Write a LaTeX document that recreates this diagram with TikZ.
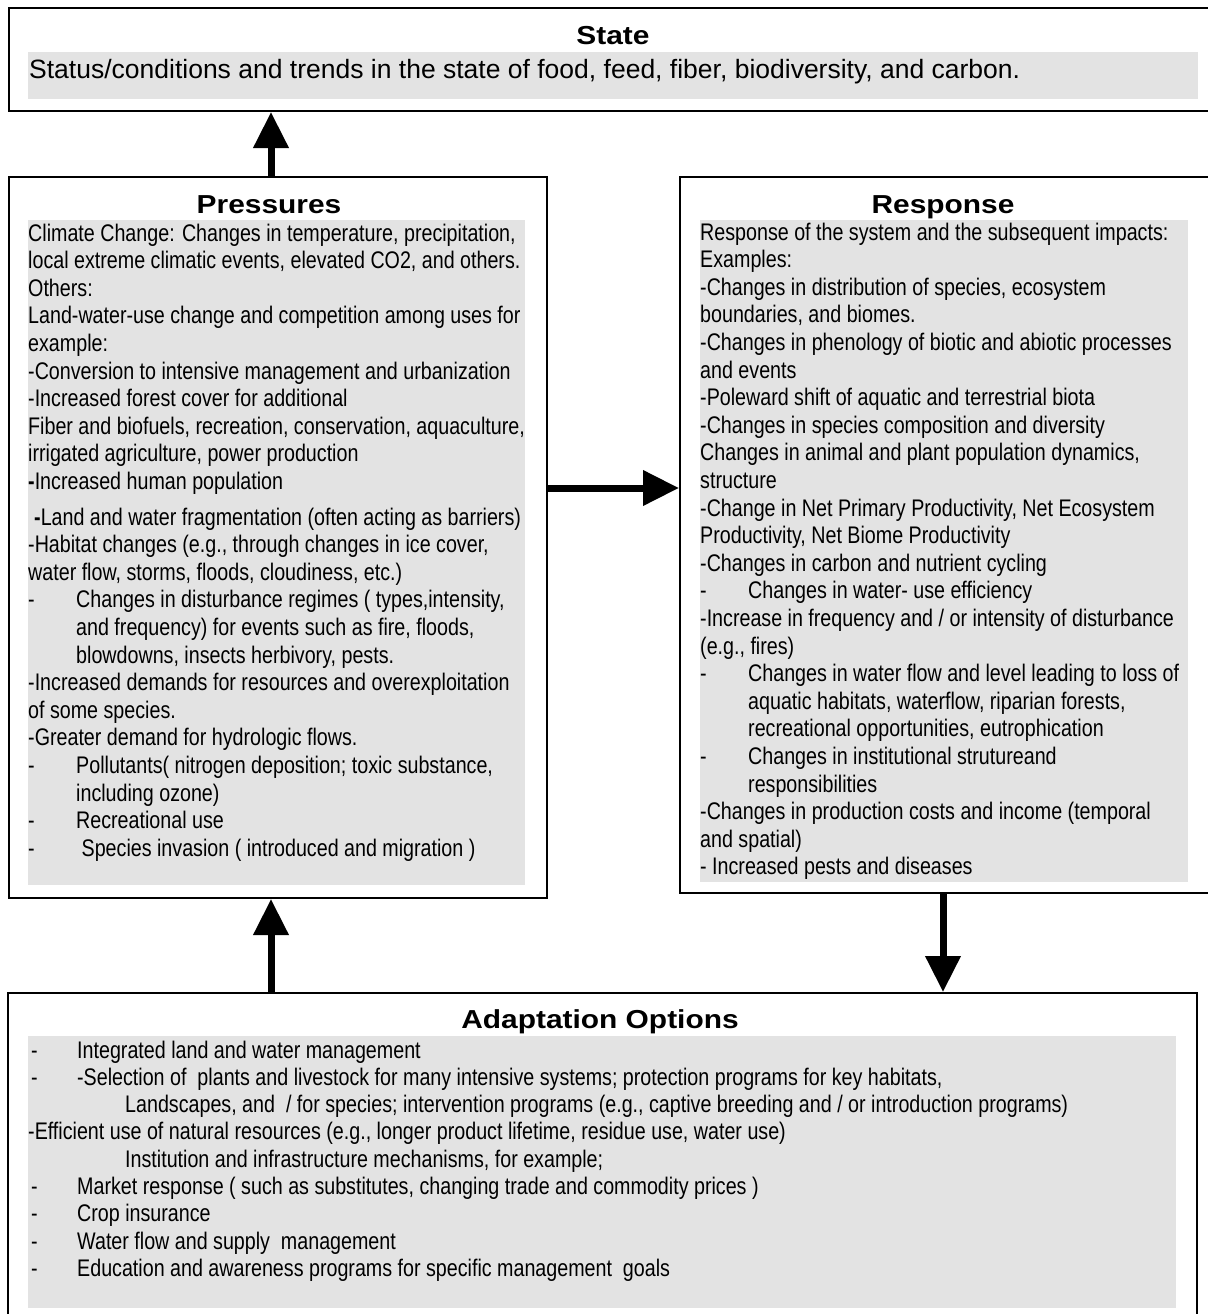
\documentclass[tikz,border=0pt]{standalone}
\usepackage{fontspec}
\setmainfont{Liberation Sans}
\newfontfamily\narrowfont{Liberation Sans}[FakeStretch=0.82]
\newfontfamily\headfont{Liberation Sans}[FakeStretch=1.15]
\usetikzlibrary{arrows.meta}

\definecolor{panel}{HTML}{E3E3E3}

% list helpers: a dash followed by a tab stop, and a bare tab stop
\newcommand\dashtab{\makebox[48pt][l]{-}}
\newcommand\gaptab{\hspace*{48pt}}
\newcommand\adash{\makebox[49pt][l]{\hspace{3pt}-}}

\tikzset{
  box/.style={draw, line width=2pt, rectangle, inner sep=0pt, anchor=north west},
  heading/.style={anchor=base, inner sep=0pt, font=\headfont\bfseries\fontsize{26}{30}\selectfont},
  bodytext/.style={anchor=base west, inner sep=0pt},
  flow/.style={line width=7pt, -{Triangle[length=36pt,width=34pt]}},
}

\begin{document}
\begin{tikzpicture}[x=1pt, y=-1pt]
\useasboundingbox (0,0) rectangle (1207,1314);

% frames
\node[box, minimum width=1207pt, minimum height=103pt] (state) at (8,7) {};
\node[box, minimum width=538pt, minimum height=721pt] (pres) at (8,176) {};
\node[box, minimum width=536pt, minimum height=716pt] (resp) at (679,176) {};
\node[box, minimum width=1189pt, minimum height=330pt] (adapt) at (7,992) {};

% shaded text panels
\fill[panel] (28,52) rectangle (1198,99);
\fill[panel] (28,220) rectangle (525,885);
\fill[panel] (700,220) rectangle (1188,882);
\fill[panel] (28,1036) rectangle (1176,1308);

% headings
\node[heading] (stateT) at (613,45) {State};
\node[heading] (presT) at (269,213) {Pressures};
\node[heading] (respT) at (943,213) {Response};
\node[heading] (adaptT) at (600,1028) {Adaptation Options};

% State text
\node[bodytext, font=\fontsize{26.5}{30}\selectfont] (stateB) at (29,78)
  {Status/conditions and trends in the state of food, feed, fiber, biodiversity, and carbon.};

% Pressures text
\node[bodytext] (presB) at (28,241) {\parbox[t]{600pt}{\raggedright\narrowfont\fontsize{24}{27.6}\selectfont
Climate Change: Changes in temperature, precipitation,\\
local extreme climatic events, elevated CO2, and others.\\
Others:\\
Land-water-use change and competition among uses for\\
example:\\
-Conversion to intensive management and urbanization\\
-Increased forest cover for additional\\
Fiber and biofuels, recreation, conservation, aquaculture,\\
irrigated agriculture, power production\\
\textbf{-}Increased human population\\[8pt]
\hspace*{6pt}\textbf{-}Land and water fragmentation (often acting as barriers)\\
-Habitat changes (e.g., through changes in ice cover,\\
water flow, storms, floods, cloudiness, etc.)\\
\dashtab Changes in disturbance regimes ( types,intensity,\\
\gaptab and frequency) for events such as fire, floods,\\
\gaptab blowdowns, insects herbivory, pests.\\
-Increased demands for resources and overexploitation\\
of some species.\\
-Greater demand for hydrologic flows.\\
\dashtab Pollutants( nitrogen deposition; toxic substance,\\
\gaptab including ozone)\\
\dashtab Recreational use\\
\dashtab\ Species invasion ( introduced and migration )}};

% Response text
\node[bodytext] (respB) at (700,240) {\parbox[t]{600pt}{\raggedright\narrowfont\fontsize{24}{27.6}\selectfont
Response of the system and the subsequent impacts:\\
Examples:\\
-Changes in distribution of species, ecosystem\\
boundaries, and biomes.\\
-Changes in phenology of biotic and abiotic processes\\
and events\\
-Poleward shift of aquatic and terrestrial biota\\
-Changes in species composition and diversity\\
Changes in animal and plant population dynamics,\\
structure\\
-Change in Net Primary Productivity, Net Ecosystem\\
Productivity, Net Biome Productivity\\
-Changes in carbon and nutrient cycling\\
\dashtab Changes in water- use efficiency\\
-Increase in frequency and / or intensity of disturbance\\
(e.g., fires)\\
\dashtab Changes in water flow and level leading to loss of\\
\gaptab aquatic habitats, waterflow, riparian forests,\\
\gaptab recreational opportunities, eutrophication\\
\dashtab Changes in institutional strutureand\\
\gaptab responsibilities\\
-Changes in production costs and income (temporal\\
and spatial)\\
- Increased pests and diseases}};

% Adaptation text
\node[bodytext] (adaptB) at (28,1058) {\parbox[t]{1160pt}{\raggedright\narrowfont\fontsize{24}{27.3}\selectfont
\adash Integrated land and water management\\
\adash -Selection of~ plants and livestock for many intensive systems; protection programs for key habitats,\\
\hspace*{97pt}Landscapes, and~ / for species; intervention programs (e.g., captive breeding and / or introduction programs)\\
-Efficient use of natural resources (e.g., longer product lifetime, residue use, water use)\\
\hspace*{97pt}Institution and infrastructure mechanisms, for example;\\
\adash Market response ( such as substitutes, changing trade and commodity prices )\\
\adash Crop insurance\\
\adash Water flow and supply~ management\\
\adash Education and awareness programs for specific management~ goals}};

% connectors
\coordinate (leftx) at (271,0);
\coordinate (rightx) at (943,0);
\coordinate (midy) at (0,488);
\draw[flow] (pres.north -| leftx) -- (state.south -| leftx);
\draw[flow] (pres.east |- midy) -- (resp.west |- midy);
\draw[flow] (resp.south -| rightx) -- (adapt.north -| rightx);
\draw[flow] (adapt.north -| leftx) -- (pres.south -| leftx);
\end{tikzpicture}
\end{document}
